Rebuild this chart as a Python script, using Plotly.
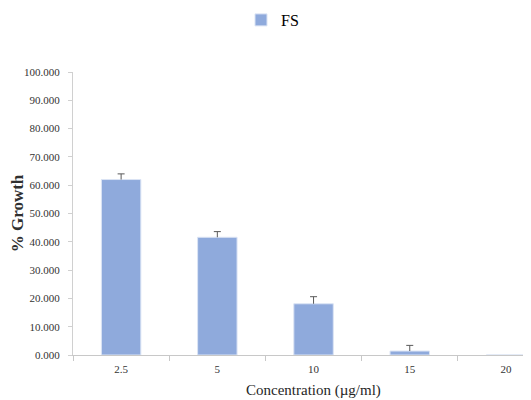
import plotly.graph_objects as go

categories = ["2.5", "5", "10", "15", "20"]
growth = [62.0, 41.6, 18.1, 1.4, 0.0]
errors = [2.0, 2.0, 2.5, 2.0, 0.0]
series_name = "FS"

SERIF = "Liberation Serif, Times New Roman, serif"

# page body has an 8px margin, so the figure is sized to fit the window
OFF = 8
W, H = 531 - OFF, 400 - OFF
L, R, T, B = 73 - OFF, 0, 72 - OFF, 45
PW = W - L - R
PH = H - T - B

err_top = [g + e if e > 0 else None for g, e in zip(growth, errors)]

fig = go.Figure()
fig.add_trace(go.Bar(
    x=categories, y=growth, name=series_name,
    marker=dict(color="#8faadc", line=dict(color="#dbe4f4", width=1)),
    width=0.41, showlegend=True,
))
fig.add_trace(go.Scatter(
    x=categories, y=err_top, mode="markers", showlegend=False, hoverinfo="skip",
    marker=dict(symbol="line-ew", size=5, line=dict(color="#595959", width=1)),
    error_y=dict(type="data", symmetric=False, array=[0]*5, arrayminus=errors,
                 color="#595959", thickness=1, width=0),
))

fig.update_layout(
    width=W, height=H,
    margin=dict(l=L, r=R, t=T, b=B, autoexpand=False),
    paper_bgcolor="white", plot_bgcolor="white",
    font=dict(family=SERIF, color="#404040"),
    showlegend=True,
    legend=dict(orientation="h", xref="container", yref="container",
                x=233 / W, y=1 - 12 / H, xanchor="left", yanchor="middle",
                font=dict(size=16, color="black", family=SERIF),
                itemwidth=30, bgcolor="rgba(0,0,0,0)"),
    xaxis=dict(
        type="category", range=[-0.5, 4.26], automargin=False,
        showline=True, linecolor="#c8c8c8", linewidth=1,
        ticks="outside", ticklen=5, tickcolor="#c8c8c8", tickson="boundaries",
        ticklabelstandoff=4,
        tickfont=dict(size=11, color="#333333", family=SERIF),
        showgrid=False, zeroline=False,
    ),
    yaxis=dict(
        range=[0, 100], dtick=10, tickformat=".3f", automargin=False,
        showline=True, linecolor="#d0d0d0", linewidth=1,
        ticks="outside", ticklen=4, tickcolor="#d0d0d0", ticklabelstandoff=6,
        tickfont=dict(size=11, color="#333333", family=SERIF),
        showgrid=False, zeroline=False,
        title=dict(text="<b>% Growth</b>", font=dict(size=17, color="#303030", family=SERIF), standoff=8),
    ),
    annotations=[dict(
        text="Concentration (µg/ml)", xref="paper", yref="paper",
        x=(313 - OFF - L) / PW, y=-35 / PH, xanchor="center", yanchor="middle",
        showarrow=False, font=dict(size=15, color="#262626", family=SERIF),
    )],
)

fig.write_html("out.html")
